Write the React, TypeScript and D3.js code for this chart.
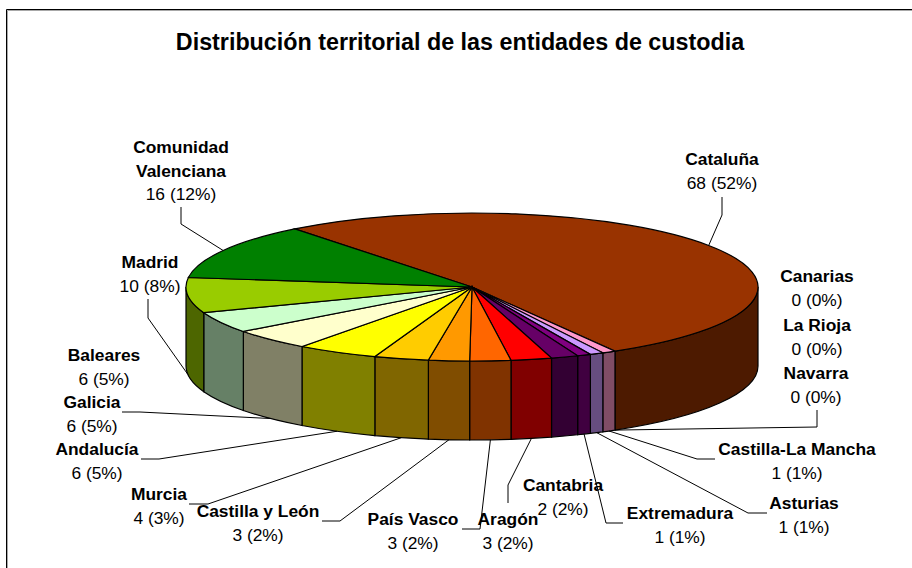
import React from 'react';
import * as d3 from 'd3';

const title = 'Distribución territorial de las entidades de custodia';

// clockwise from the big slice, same order as the sheet
const regions = [
  'Cataluña', 'Canarias', 'La Rioja', 'Navarra', 'Castilla-La Mancha', 'Asturias', 'Extremadura',
  'Cantabria', 'Aragón', 'País Vasco', 'Castilla y León', 'Murcia', 'Andalucía', 'Galicia',
  'Baleares', 'Madrid', 'Comunidad Valenciana',
];
const counts = [68, 0, 0, 0, 1, 1, 1, 2, 3, 3, 3, 4, 6, 6, 6, 10, 16];
const colors = [
  '#993300', '#333399', '#3366FF', '#00CCFF', '#FF99CC', '#CC99FF', '#800080',
  '#660066', '#FF0000', '#FF6600', '#FF9900', '#FFCC00', '#FFFF00', '#FFFFCC',
  '#CCFFCC', '#99CC00', '#008000',
];

// label placement: centre x, first baseline
const labelPos: Record<string, [number, number]> = {
  'Cataluña': [722, 165],
  'Canarias': [817, 282],
  'La Rioja': [817, 331],
  'Navarra': [816, 379],
  'Castilla-La Mancha': [797, 455],
  'Asturias': [804, 509],
  'Extremadura': [680, 519],
  'Cantabria': [563, 491],
  'Aragón': [508, 525],
  'País Vasco': [413, 525],
  'Castilla y León': [258, 517],
  'Murcia': [159, 500],
  'Andalucía': [97, 455],
  'Galicia': [92, 408],
  'Baleares': [104, 361],
  'Madrid': [150, 268],
  'Comunidad Valenciana': [181, 153],
};

// leader lines start here, the last point is taken from the slice
const leaders: Record<string, [number, number][]> = {
  'Cataluña': [[722, 197], [722, 215]],
  'Navarra': [[817, 410], [817, 427]],
  'Castilla-La Mancha': [[715, 459], [697, 459]],
  'Asturias': [[767, 513], [748, 513]],
  'Extremadura': [[623, 523], [606, 523]],
  'Aragón': [[508, 503], [508, 485]],
  'País Vasco': [[462, 529], [480, 529]],
  'Castilla y León': [[322, 521], [340, 521]],
  'Murcia': [[189, 504], [208, 504]],
  'Andalucía': [[141, 459], [159, 459]],
  'Galicia': [[122, 412], [140, 412]],
  'Madrid': [[148, 299], [148, 318]],
  'Comunidad Valenciana': [[181, 207], [181, 224]],
};

const cx = 472;
const cy = 287;
const rx = 286;
const ry = 74;
const depth = 79;
const font = '"Liberation Sans", Arial, sans-serif';

const rad = (deg: number) => (deg * Math.PI) / 180;

const pie = d3
  .pie<number>()
  .sort(null)
  .startAngle(rad(-38.3))
  .endAngle(rad(321.7));
const slices = pie(counts);
const total = d3.sum(counts);
const pct = d3.format('.0%');

const arc = d3.arc<d3.PieArcDatum<number>>().innerRadius(0).outerRadius(rx);
const rim = (a: number): [number, number] => [cx + rx * Math.sin(a), cy - ry * Math.cos(a)];

const sidePath = (a0: number, a1: number) => {
  const [x0, y0] = rim(a0);
  const [x1, y1] = rim(a1);
  return (
    `M${x0},${y0}A${rx},${ry} 0 0 1 ${x1},${y1}` +
    `L${x1},${y1 + depth}A${rx},${ry} 0 0 0 ${x0},${y0 + depth}Z`
  );
};

const shade = (c: string) => {
  const { r, g, b } = d3.rgb(c);
  return d3.rgb(r / 2, g / 2, b / 2).formatHex();
};

const leaderLine = d3.line();

function anchor(i: number): [number, number] {
  const s = slices[i];
  const mid = (s.startAngle + s.endAngle) / 2;
  const [x, y] = rim(mid);
  return Math.cos(mid) < 0 ? [x, y + depth] : [x, y];
}

export default function App() {
  return (
    <svg
      width={912}
      height={568}
      style={{ position: 'absolute', left: 0, top: 0, background: '#fff' }}
      fontFamily={font}
    >
      <path d="M912,10.5H7.5V568" fill="none" stroke="#a8a8a8" />
      <path d="M912,9.5H6.5V568" fill="none" stroke="#000" />

      <text x={460} y={50} textAnchor="middle" fontWeight="bold" fontSize={23.3}>
        {title}
      </text>

      {slices.map((s, i) => {
        const a0 = Math.max(s.startAngle, rad(90));
        const a1 = Math.min(s.endAngle, rad(270));
        if (s.value === 0 || a1 <= a0) return null;
        return (
          <path key={i} d={sidePath(a0, a1)} fill={shade(colors[i])} stroke="#000" strokeWidth={1.2} />
        );
      })}

      <g transform={`translate(${cx},${cy}) scale(1,${ry / rx})`}>
        {slices.map((s, i) =>
          s.value === 0 ? null : (
            <path
              key={i}
              d={arc(s) as string}
              fill={colors[i]}
              stroke="#000"
              strokeWidth={1.2}
              vectorEffect="non-scaling-stroke"
            />
          ),
        )}
      </g>

      {regions.map((name, i) =>
        leaders[name] ? (
          <path
            key={name}
            d={leaderLine([...leaders[name], anchor(i)]) as string}
            fill="none"
            stroke="#000"
            strokeWidth={1}
          />
        ) : null,
      )}

      {regions.map((name, i) => {
        const [x, y] = labelPos[name];
        const lines = name === 'Comunidad Valenciana' ? ['Comunidad', 'Valenciana'] : [name];
        return (
          <text key={name} textAnchor="middle" fontSize={17.4} fill="#000">
            {lines.map((l, j) => (
              <tspan key={l} x={x} y={y + j * 23.5} fontWeight="bold">
                {l}
              </tspan>
            ))}
            <tspan x={x} y={y + lines.length * 23.5}>
              {`${counts[i]} (${pct(counts[i] / total)})`}
            </tspan>
          </text>
        );
      })}
    </svg>
  );
}
